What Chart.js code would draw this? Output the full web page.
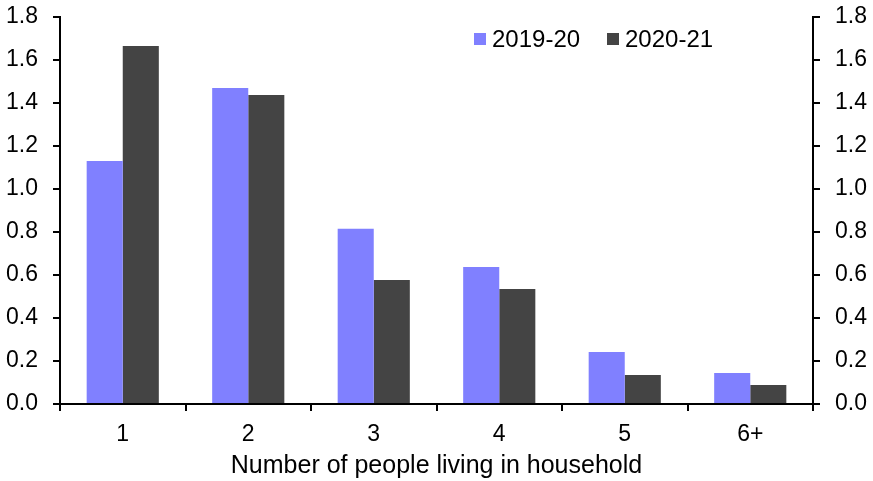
<!DOCTYPE html>
<html><head><meta charset="utf-8">
<script src="https://cdn.jsdelivr.net/npm/chart.js@4/dist/chart.umd.min.js"></script>
<style>html,body{margin:0;padding:0;background:#fff}#wrap{width:873px;height:481px}</style>
</head><body><div id="wrap"><canvas id="c" width="873" height="481"></canvas></div>
<script>
const categories = ["1","2","3","4","5","6+"];
const series2019 = [1.13, 1.47, 0.815, 0.637, 0.242, 0.144];
const series2020 = [1.665, 1.437, 0.577, 0.535, 0.135, 0.088];
const seriesLabels = ["2019-20","2020-21"];
const colors = ["#8080FF","#444444"];
const FONT = "'Liberation Sans', Arial, sans-serif";

const legendPlugin = {
  id:'customLegend',
  afterDraw(chart){
    const ctx = chart.ctx;
    ctx.save();
    ctx.font = "24px " + FONT;
    ctx.textBaseline = 'middle';
    const xs = [474, 607];
    chart.data.datasets.forEach((ds,i)=>{
      ctx.fillStyle = ds.backgroundColor;
      ctx.fillRect(xs[i], 33, 12, 12);
      ctx.fillStyle = '#000';
      ctx.fillText(ds.label, xs[i]+18, 40);
    });
    ctx.restore();
  }
};

function fitY(s){ s.width = 60; s.paddingTop = 0; s.paddingBottom = 0; }

new Chart(document.getElementById('c'), {
  type:'bar',
  data:{
    labels: categories,
    datasets:[
      {label: seriesLabels[0], data: series2019, backgroundColor: colors[0], yAxisID:'y'},
      {label: seriesLabels[1], data: series2020, backgroundColor: colors[1], yAxisID:'y'}
    ]
  },
  options:{
    responsive:false, animation:false,
    layout:{padding:{top:17, bottom:0, left:0, right:0}},
    datasets:{bar:{categoryPercentage:0.575, barPercentage:1.0}},
    plugins:{legend:{display:false}, tooltip:{enabled:false}},
    scales:{
      x:{
        grid:{display:true, drawOnChartArea:false, drawTicks:true, tickLength:7, offset:true, color:'#000', lineWidth:2},
        border:{display:true, color:'#000', width:2},
        ticks:{font:{family:FONT, size:23}, color:'#000', padding:10},
        title:{display:true, text:'Number of people living in household', font:{family:FONT, size:25}, color:'#000', padding:{top:0,bottom:0}},
        afterFit(s){ s.height = 77; s.paddingLeft = 0; s.paddingRight = 0; }
      },
      y:{
        position:'left', min:0, max:1.8,
        grid:{display:true, drawOnChartArea:false, drawTicks:true, tickLength:7, color:'#000', lineWidth:2},
        border:{display:true, color:'#000', width:2},
        ticks:{stepSize:0.2, font:{family:FONT, size:23}, color:'#000', padding:15, callback:v=>Number(v).toFixed(1)},
        afterFit: fitY
      },
      y2:{
        position:'right', min:0, max:1.8, display:true,
        grid:{display:true, drawOnChartArea:false, drawTicks:true, tickLength:7, color:'#000', lineWidth:2},
        border:{display:true, color:'#000', width:2},
        ticks:{stepSize:0.2, font:{family:FONT, size:23}, color:'#000', padding:15, callback:v=>Number(v).toFixed(1)},
        afterFit: fitY
      }
    }
  },
  plugins:[legendPlugin]
});
</script></body></html>
